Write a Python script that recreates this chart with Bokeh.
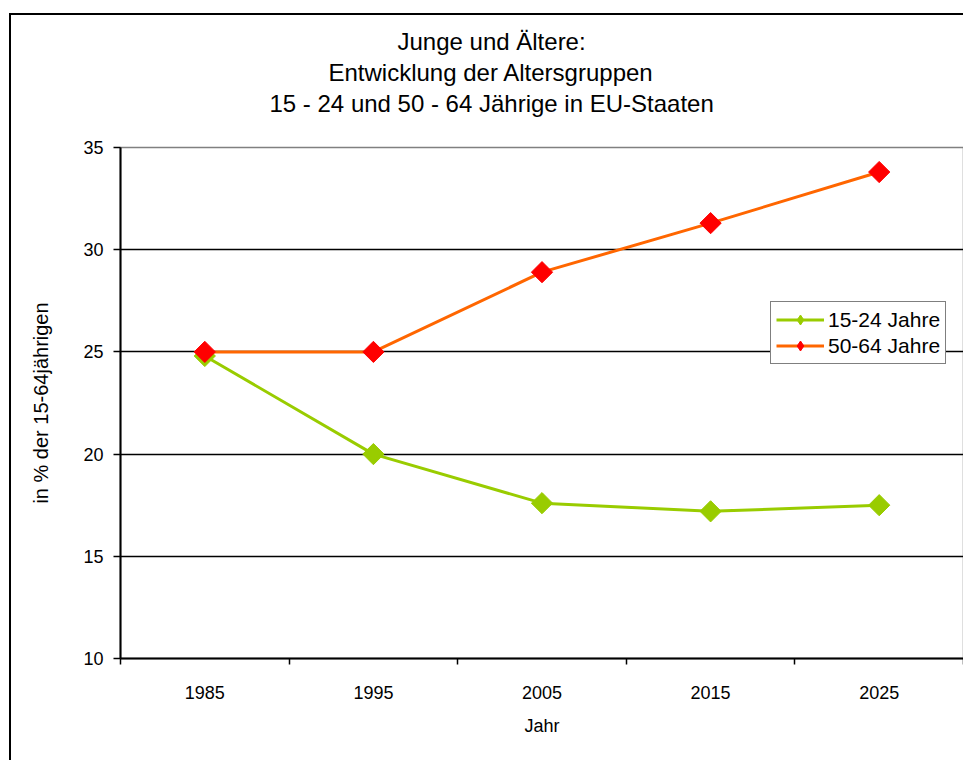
import math
from bokeh.plotting import figure
from bokeh.models import FixedTicker, Range1d, Legend, LegendItem, Title
from bokeh.embed import file_html
from bokeh.resources import INLINE

# Data: share of age groups in the 15-64 population (%), EU states
years = [1985, 1995, 2005, 2015, 2025]
young_15_24 = [24.8, 20.0, 17.6, 17.2, 17.5]
older_50_64 = [25.0, 25.0, 28.9, 31.3, 33.8]
y_ticks = [10, 15, 20, 25, 30, 35]
x_boundaries = [1980, 1990, 2000, 2010, 2020, 2030]
title_lines = ["Junge und Ältere:",
               "Entwicklung der Altersgruppen",
               "15 - 24 und 50 - 64 Jährige in EU-Staaten"]

FONT = "Liberation Sans"
GREEN = "#99CC00"
ORANGE = "#FF6600"
RED = "#FF0000"

p = figure(width=954, height=747, output_backend="svg", toolbar_location=None,
           x_range=Range1d(x_boundaries[0], x_boundaries[-1]),
           y_range=Range1d(y_ticks[0], y_ticks[-1]),
           min_border_left=109, min_border_right=2,
           min_border_top=132, min_border_bottom=104)
p.title.visible = False

# outer chart frame (left and top edges visible)
p.margin = (13, 0, 0, 9)
p.styles = {"border-left": "2px solid black", "border-top": "2px solid black"}

p.background_fill_color = "white"
p.border_fill_color = "white"
p.outline_line_color = "#808080"
p.outline_line_width = 1.5

# grid
p.xgrid.visible = False
p.ygrid.ticker = FixedTicker(ticks=y_ticks[1:-1])
p.ygrid.grid_line_color = "black"
p.ygrid.grid_line_width = 1.5

# x axis: labels at category centres, ticks at boundaries
xa = p.xaxis[0]
xa.ticker = FixedTicker(ticks=years, minor_ticks=x_boundaries)
xa.major_tick_in = 0
xa.major_tick_out = 0
xa.minor_tick_in = 0
xa.minor_tick_out = 6
xa.minor_tick_line_color = "black"
xa.minor_tick_line_width = 1.5
xa.axis_line_color = "black"
xa.axis_line_width = 2
xa.major_label_text_font = FONT
xa.major_label_text_font_size = "18px"
xa.major_label_text_color = "black"
xa.major_label_standoff = 21
xa.axis_label = "Jahr"
xa.axis_label_text_font = FONT
xa.axis_label_text_font_size = "18px"
xa.axis_label_text_font_style = "normal"
xa.axis_label_text_color = "black"
xa.axis_label_standoff = 14

ya = p.yaxis[0]
ya.ticker = FixedTicker(ticks=y_ticks, minor_ticks=[])
ya.major_tick_in = 0
ya.major_tick_out = 7
ya.major_tick_line_color = "black"
ya.major_tick_line_width = 1.5
ya.minor_tick_line_color = None
ya.axis_line_color = "black"
ya.axis_line_width = 2
ya.major_label_text_font = FONT
ya.major_label_text_font_size = "18px"
ya.major_label_text_color = "black"
ya.major_label_standoff = 10
ya.axis_label = "in % der 15-64jährigen"
ya.axis_label_text_font = FONT
ya.axis_label_text_font_size = "20px"
ya.axis_label_text_font_style = "normal"
ya.axis_label_text_color = "black"
ya.axis_label_standoff = 28

# series
g_line = p.line(years, young_15_24, line_color=GREEN, line_width=3)
p.scatter(years, young_15_24, marker="square", size=15, angle=45,
          angle_units="deg", fill_color=GREEN, line_color=GREEN)
o_line = p.line(years, older_50_64, line_color=ORANGE, line_width=3)
p.scatter(years, older_50_64, marker="square", size=15, angle=45,
          angle_units="deg", fill_color=RED, line_color=RED)

# diamond swatches used only by the legend
g_key = p.scatter([math.nan], [math.nan], marker="diamond",
                  fill_color=GREEN, line_color=GREEN)
o_key = p.scatter([math.nan], [math.nan], marker="diamond",
                  fill_color=RED, line_color=RED)

legend = Legend(items=[LegendItem(label="15-24 Jahre", renderers=[g_line, g_key]),
                       LegendItem(label="50-64 Jahre", renderers=[o_line, o_key])],
                location=(650, 294))
legend.label_text_font = FONT
legend.label_text_font_size = "21px"
legend.label_text_color = "black"
legend.border_line_color = "black"
legend.border_line_width = 1.5
legend.background_fill_color = "white"
legend.background_fill_alpha = 1
legend.padding = 5
legend.spacing = 1
legend.margin = 0
legend.glyph_width = 48
legend.glyph_height = 25
legend.label_height = 25
legend.label_standoff = 4
p.add_layout(legend, "center")

# chart title: three lines stacked above the frame, centred around x = 489
# (panels nearest the frame are added first; a white dot panel keeps the gap)
p.add_layout(Title(text=".", text_font_size="4px", text_color="white",
                   standoff=25), "above")
title_offsets = [277, 208, 149]
for line, off in reversed(list(zip(title_lines, title_offsets))):
    p.add_layout(Title(text=line, align="left", offset=off, standoff=2,
                       text_font=FONT, text_font_size="24px",
                       text_font_style="normal", text_color="black"), "above")

open("out.html", "w").write(file_html(p, INLINE))
